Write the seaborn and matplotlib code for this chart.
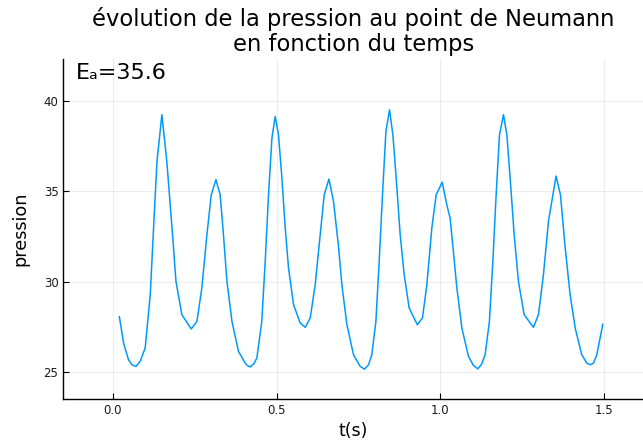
import matplotlib
matplotlib.use("Agg")
import matplotlib.pyplot as plt
import seaborn as sns
import pandas as pd

# data
t_s = [0.020, 0.033, 0.048, 0.0586, 0.0708, 0.0836, 0.099, 0.1145, 0.1246, 0.135, 0.150,
       0.165, 0.181, 0.193, 0.211, 0.2396, 0.257, 0.272, 0.2875, 0.3007, 0.315,
       0.328, 0.338, 0.3486, 0.364, 0.384, 0.4045, 0.4115, 0.4197, 0.430, 0.440, 0.455, 0.4655,
       0.4756, 0.486, 0.496, 0.506, 0.5165, 0.5266, 0.5367, 0.552, 0.5723, 0.5876,
       0.6029, 0.6181, 0.6334, 0.6456, 0.660, 0.674, 0.689, 0.6996, 0.715, 0.735,
       0.7555, 0.7687, 0.781, 0.791, 0.8034, 0.8135, 0.8236, 0.834, 0.845, 0.8553, 0.8654, 0.8776,
       0.8898, 0.905, 0.930, 0.9457, 0.959, 0.9743, 0.9875, 1.0058, 1.020, 1.030,
       1.040, 1.0507, 1.066, 1.086, 1.101, 1.1148, 1.1265, 1.137, 1.150, 1.1605, 1.1706, 1.1808,
       1.193, 1.2033, 1.2134, 1.2256, 1.2387, 1.2561, 1.2845, 1.2998, 1.315, 1.3303,
       1.3535, 1.367, 1.381, 1.3965, 1.412, 1.432, 1.4475, 1.4576, 1.4677, 1.478, 1.4963]
pression = [28.08, 26.61, 25.69, 25.41, 25.32, 25.60, 26.34, 29.28, 32.97, 36.65, 39.23,
            36.65, 32.97, 30.02, 28.18, 27.39, 27.81, 29.65, 32.60, 34.80, 35.64,
            34.80, 32.60, 30.02, 27.80, 26.15, 25.50, 25.36, 25.29, 25.45, 25.78, 27.80, 31.12,
            34.80, 37.94, 39.13, 38.12, 35.73, 32.97, 30.76, 28.73, 27.72, 27.48,
            28.00, 29.83, 32.60, 34.80, 35.67, 34.44, 32.00, 29.83, 27.62, 25.97,
            25.32, 25.17, 25.41, 25.97, 27.80, 31.12, 34.80, 38.30, 39.50, 38.12, 35.73, 32.60,
            30.39, 28.55, 27.62, 28.00, 29.83, 32.97, 34.80, 35.50, 34.25, 33.52,
            31.67, 29.65, 27.44, 25.88, 25.38, 25.19, 25.45, 25.97, 27.80, 31.12, 34.80, 38.12,
            39.23, 38.12, 35.73, 32.60, 30.02, 28.18, 27.48, 28.18, 30.39, 33.33,
            35.84, 34.80, 31.95, 29.28, 27.44, 25.97, 25.50, 25.41, 25.50, 25.97, 27.66]
x_ticks = [0.0, 0.5, 1.0, 1.5]
x_tick_labels = ["0.0", "0.5", "1.0", "1.5"]
y_ticks = [25, 30, 35, 40]
y_tick_labels = ["25", "30", "35", "40"]
title = "évolution de la pression au point de Neumann\nen fonction du temps"
annotation = "Eₐ=35.6"

sns.set_theme(style="white")
plt.rcParams["font.family"] = ["DejaVu Sans"]

df = pd.DataFrame({"t": t_s, "p": pression})

fig = plt.figure(figsize=(6.43, 4.44), dpi=100)
ax = fig.add_axes([63.3 / 643, 45 / 444, (643 - 63.3) / 643, (399 - 59.3) / 444])

sns.lineplot(data=df, x="t", y="p", ax=ax, color="#009AFA", linewidth=1.1, sort=False)

ax.set_xlim(-0.151, 1.619)
ax.set_ylim(23.52, 42.29)
ax.set_xticks(x_ticks)
ax.set_xticklabels(x_tick_labels)
ax.set_yticks(y_ticks)
ax.set_yticklabels(y_tick_labels)

ax.grid(True, color="#000000", alpha=0.07, linewidth=0.8)
for side in ["top", "right"]:
    ax.spines[side].set_visible(False)
for side in ["left", "bottom"]:
    ax.spines[side].set_color("#000000")
    ax.spines[side].set_linewidth(1.0)

ax.tick_params(axis="both", direction="in", length=4, width=0.8, color="#000000",
               labelsize=8.5, labelcolor="#1a1a1a", left=True, bottom=True)
ax.set_xlabel("t(s)", fontsize=12.5, color="#000000", labelpad=4)
ax.set_ylabel("pression", fontsize=12.7, color="#000000", labelpad=10)
ax.set_title(title, fontsize=16.3, color="#000000", pad=6, linespacing=1.1)

ax.text(0.022, 0.99, annotation, transform=ax.transAxes, ha="left", va="top",
        fontsize=16, color="#000000")

fig.savefig("out.png", dpi=100)
